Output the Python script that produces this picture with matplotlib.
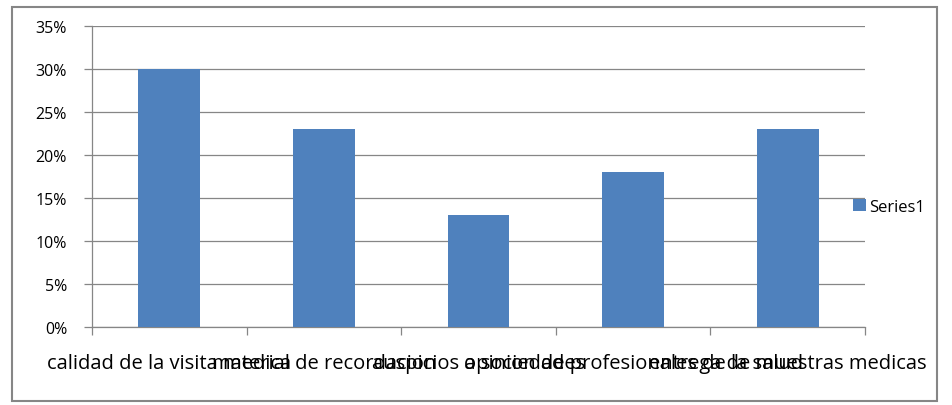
import matplotlib.pyplot as plt
from matplotlib.patches import Rectangle
from matplotlib.ticker import FuncFormatter

categories = ['calidad de la visita medica', 'material de recordacion',
              'auspicios a sociedades', 'opinion de profesionales de la salud',
              'entrega de muestras medicas']
values = [0.30, 0.23, 0.13, 0.18, 0.23]
series_name = 'Series1'

plt.rcParams['font.family'] = ['Open Sans', 'DejaVu Sans']

fig = plt.figure(figsize=(9.52, 4.06), dpi=100)
ax = fig.add_axes([92 / 952, 1 - 328 / 406, (865 - 92) / 952, (328 - 27) / 406])

x = list(range(len(categories)))
ax.bar(x, values, width=0.4, color='#4F81BD', label=series_name, zorder=3)

ax.set_xlim(-0.5, len(categories) - 0.5)
ax.set_ylim(0, 0.35)
ax.set_yticks([i * 0.05 for i in range(8)])
ax.yaxis.set_major_formatter(FuncFormatter(lambda v, p: f'{v * 100:.0f}%'))
ax.grid(axis='y', color='#868686', linewidth=0.9, zorder=0)

ax.set_xticks(x)
ax.set_xticklabels(categories)
ax.set_xticks([i - 0.5 for i in range(len(categories) + 1)], minor=True)
ax.tick_params(axis='x', which='major', length=0, pad=19, labelsize=14.5, colors='#000000')
ax.tick_params(axis='x', which='minor', length=6, color='#868686', width=0.9)
ax.tick_params(axis='y', length=6, color='#868686', width=0.9, pad=12, labelsize=11.5)

for side in ['top', 'right']:
    ax.spines[side].set_visible(False)
for side in ['left', 'bottom']:
    ax.spines[side].set_color('#868686')
    ax.spines[side].set_linewidth(0.9)

ax.legend(loc='center left', bbox_to_anchor=(0.965, 0.40), frameon=False,
          fontsize=12, handlelength=0.8, handleheight=0.8, handletextpad=0.2)

fig.patches.append(Rectangle((12 / 952, 4 / 406), 925 / 952, 394 / 406,
                             transform=fig.transFigure, fill=False,
                             edgecolor='#868686', linewidth=1.5))

fig.savefig('out.png', dpi=100)
